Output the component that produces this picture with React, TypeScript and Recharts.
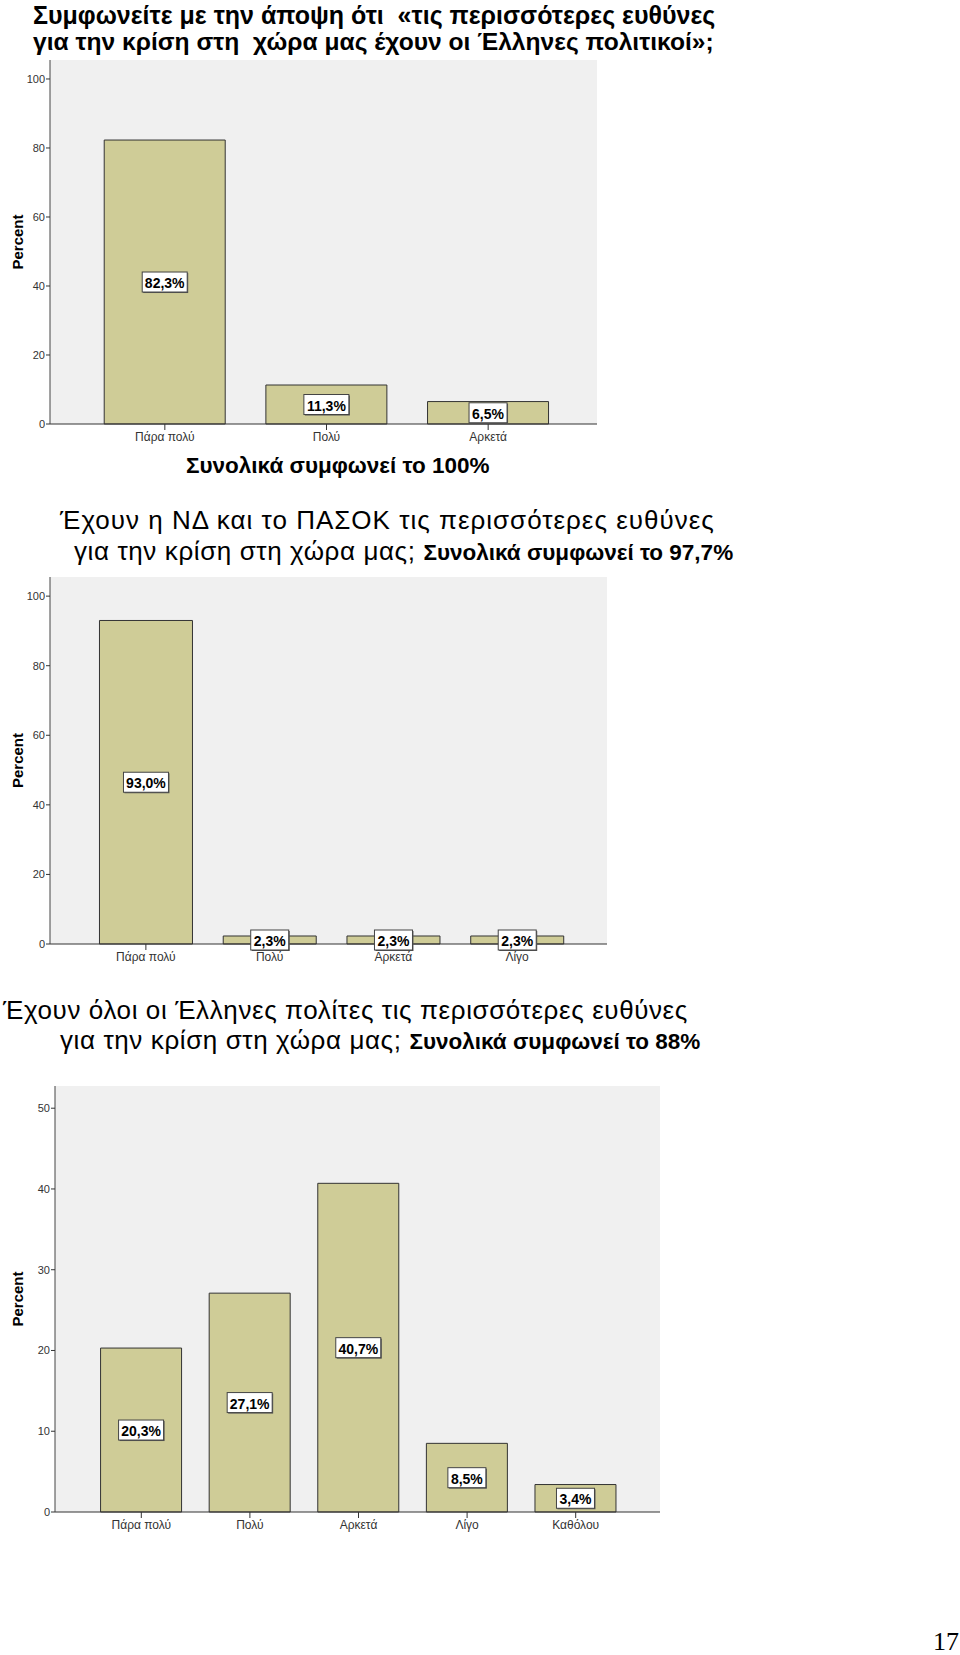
import React from "react";
import { BarChart, Bar, XAxis, YAxis, CartesianGrid, LabelList, Label } from "recharts";

// chart 1
const cats1 = ["Πάρα πολύ", "Πολύ", "Αρκετά"];
const vals1 = [82.3, 11.3, 6.5];
const ticks1 = [0, 20, 40, 60, 80, 100];

// chart 2
const cats2 = ["Πάρα πολύ", "Πολύ", "Αρκετά", "Λίγο"];
const vals2 = [93.0, 2.3, 2.3, 2.3];
const ticks2 = [0, 20, 40, 60, 80, 100];

// chart 3
const cats3 = ["Πάρα πολύ", "Πολύ", "Αρκετά", "Λίγο", "Καθόλου"];
const vals3 = [20.3, 27.1, 40.7, 8.5, 3.4];
const ticks3 = [0, 10, 20, 30, 40, 50];

const SANS = "'Liberation Sans', Arial, sans-serif";
const BAR_FILL = "#cfcc97";

const fmt = (v: number) => v.toFixed(1).replace(".", ",") + "%";

function renderBox(props: any) {
  const { x, y, width, height, value } = props;
  const cx = Number(x) + Number(width) / 2;
  const cy = Number(y) + Number(height) / 2;
  const txt = fmt(Number(value));
  const w = txt.length > 4 ? 45 : 38;
  const h = 20;
  return (
    <g>
      <rect x={cx - w / 2 + 1} y={cy - h / 2 + 1} width={w} height={h} fill="#555" />
      <rect x={cx - w / 2} y={cy - h / 2} width={w} height={h} fill="#fff" stroke="#444" strokeWidth={1} />
      <text x={cx} y={cy + 1} textAnchor="middle" dominantBaseline="central" fontFamily={SANS} fontWeight="bold" fontSize={14} fill="#000">
        {txt}
      </text>
    </g>
  );
}

function renderPercent(props: any) {
  const vb = props.viewBox || {};
  const cx = 17;
  const cy = vb.y + vb.height / 2;
  return (
    <text x={cx} y={cy} transform={`rotate(-90 ${cx} ${cy})`} textAnchor="middle" dominantBaseline="central" fontFamily={SANS} fontWeight="bold" fontSize={15} fill="#000">
      Percent
    </text>
  );
}

type ChartProps = {
  cats: string[];
  vals: number[];
  ticks: number[];
  yMax: number;
  top: number;
  width: number;
  height: number;
  yWidth: number;
  padL: number;
  padR: number;
  marginRight: number;
};

function SpssChart({ cats, vals, ticks, yMax, top, width, height, yWidth, padL, padR, marginRight }: ChartProps) {
  const data = cats.map((c, i) => ({ cat: c, pct: vals[i] }));
  return (
    <div style={{ position: "absolute", left: 0, top }}>
      <BarChart width={width} height={height} data={data} margin={{ top: 10, right: marginRight, bottom: 0, left: 0 }} barCategoryGap="12.5%">
        <CartesianGrid fill="#f0f0f0" horizontal={false} vertical={false} />
        <XAxis
          dataKey="cat"
          height={26}
          interval={0}
          padding={{ left: padL, right: padR }}
          tickSize={6}
          tickMargin={2}
          axisLine={{ stroke: "#333" }}
          tickLine={{ stroke: "#333" }}
          tick={{ fill: "#333", fontSize: 12, fontFamily: SANS }}
        />
        <XAxis xAxisId="frame" dataKey="cat" orientation="top" height={0} tick={false} tickLine={false} axisLine={{ stroke: "#888" }} />
        <YAxis
          type="number"
          domain={[0, yMax]}
          ticks={ticks}
          width={yWidth}
          tickSize={4}
          tickMargin={1}
          axisLine={{ stroke: "#444" }}
          tickLine={{ stroke: "#333" }}
          tick={{ fill: "#333", fontSize: 11, fontFamily: SANS }}
        >
          <Label content={renderPercent} />
        </YAxis>
        <YAxis yAxisId="frame" orientation="right" width={0} tick={false} tickLine={false} axisLine={{ stroke: "#555" }} />
        <Bar dataKey="pct" fill={BAR_FILL} stroke="#333" strokeWidth={1} isAnimationActive={false}>
          <LabelList dataKey="pct" content={renderBox} />
        </Bar>
      </BarChart>
    </div>
  );
}

function Line({ left, cy, size, bold, spacing, children }: { left: number; cy: number; size: number; bold?: boolean; spacing?: number; children: React.ReactNode }) {
  const lh = Math.round(size * 1.2);
  return (
    <div
      style={{
        position: "absolute",
        left,
        top: cy - lh / 2,
        lineHeight: lh + "px",
        fontSize: size,
        fontFamily: SANS,
        fontWeight: bold ? "bold" : "normal",
        letterSpacing: spacing ? spacing + "px" : undefined,
        whiteSpace: "pre",
        color: "#000",
      }}
    >
      {children}
    </div>
  );
}

export default function App() {
  return (
    <div style={{ position: "absolute", left: 0, top: 0, width: 960, height: 1655, background: "#fff", overflow: "hidden" }}>
      <Line left={33} cy={15} size={25} bold>
        {"Συμφωνείτε με την άποψη ότι  «τις περισσότερες ευθύνες"}
      </Line>
      <Line left={33} cy={42} size={24.6} bold>
        {"για την κρίση στη  χώρα μας έχουν οι Έλληνες πολιτικοί»;"}
      </Line>
      <SpssChart cats={cats1} vals={vals1} ticks={ticks1} yMax={105.5} top={50} width={620} height={400} yWidth={50} padL={34} padR={28} marginRight={23} />
      <Line left={186} cy={465} size={22.5} bold>
        {"Συνολικά συμφωνεί το 100%"}
      </Line>

      <Line left={60} cy={520} size={26} spacing={1}>
        {"Έχουν η ΝΔ και το ΠΑΣΟΚ τις περισσότερες ευθύνες"}
      </Line>
      <Line left={74} cy={551} size={26} spacing={0.6}>
        {"για την κρίση στη χώρα μας; "}
        <span style={{ fontWeight: "bold", fontSize: 22.5, letterSpacing: 0 }}>{"Συνολικά συμφωνεί το 97,7%"}</span>
      </Line>
      <SpssChart cats={cats2} vals={vals2} ticks={ticks2} yMax={105.5} top={567} width={630} height={403} yWidth={50} padL={34} padR={28} marginRight={23} />

      <Line left={3} cy={1010} size={26} spacing={0.6}>
        {"Έχουν όλοι οι Έλληνες πολίτες τις περισσότερες ευθύνες"}
      </Line>
      <Line left={60} cy={1040} size={26} spacing={0.6}>
        {"για την κρίση στη χώρα μας; "}
        <span style={{ fontWeight: "bold", fontSize: 22.5, letterSpacing: 0 }}>{"Συνολικά συμφωνεί το 88%"}</span>
      </Line>
      <SpssChart cats={cats3} vals={vals3} ticks={ticks3} yMax={52.75} top={1076} width={680} height={462} yWidth={55} padL={32} padR={30} marginRight={20} />

      <div style={{ position: "absolute", right: 1, top: 1627, fontSize: 26, lineHeight: "30px", fontFamily: "'Liberation Serif', 'Times New Roman', serif", color: "#000" }}>
        17
      </div>
    </div>
  );
}
